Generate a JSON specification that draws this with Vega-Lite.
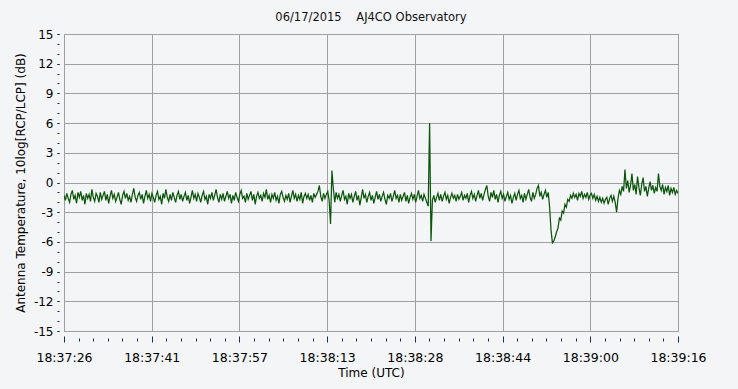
{
"$schema": "https://vega.github.io/schema/vega-lite/v6.json",
"width": 614, "height": 297,
"autosize": {"type": "none"},
"padding": {"left": 64, "top": 34, "right": 60, "bottom": 58},
"background": "#f4f5f7",
"config": {"view": {"stroke": "#a0a0a0", "strokeWidth": 1, "fill": "#f4f5f7"}, "font": "DejaVu Sans"},
"title": {"text": "06/17/2015\u00a0\u00a0\u00a0\u00a0AJ4CO Observatory", "fontSize": 11.5, "fontWeight": "normal", "font": "DejaVu Sans", "color": "#111111", "anchor": "middle", "offset": 5},
"data": {"values": [
{"t":0,"v":-1.3},{"t":0.25,"v":-1.8},{"t":0.5,"v":-1.1},{"t":0.75,"v":-1.6},
{"t":1,"v":-2.0},{"t":1.25,"v":-1.2},{"t":1.5,"v":-0.8},{"t":1.75,"v":-1.7},
{"t":2,"v":-1.3},{"t":2.25,"v":-2.1},{"t":2.5,"v":-1.0},{"t":2.75,"v":-1.5},
{"t":3,"v":-0.9},{"t":3.25,"v":-1.8},{"t":3.5,"v":-1.3},{"t":3.75,"v":-2.2},
{"t":4,"v":-1.1},{"t":4.25,"v":-1.6},{"t":4.5,"v":-1.2},{"t":4.75,"v":-1.9},
{"t":5,"v":-0.7},{"t":5.25,"v":-1.5},{"t":5.5,"v":-1.9},{"t":5.75,"v":-1.1},
{"t":6,"v":-1.4},{"t":6.25,"v":-2.0},{"t":6.5,"v":-1.0},{"t":6.75,"v":-1.7},
{"t":7,"v":-1.3},{"t":7.25,"v":-0.9},{"t":7.5,"v":-1.8},{"t":7.75,"v":-1.2},
{"t":8,"v":-2.1},{"t":8.25,"v":-1.4},{"t":8.5,"v":-0.8},{"t":8.75,"v":-1.6},
{"t":9,"v":-1.2},{"t":9.25,"v":-1.9},{"t":9.5,"v":-1.5},{"t":9.75,"v":-1.0},
{"t":10,"v":-1.7},{"t":10.25,"v":-2.2},{"t":10.5,"v":-1.3},{"t":10.75,"v":-0.9},
{"t":11,"v":-1.6},{"t":11.25,"v":-1.1},{"t":11.5,"v":-1.8},{"t":11.75,"v":-1.4},
{"t":12,"v":-2.0},{"t":12.25,"v":-1.2},{"t":12.5,"v":-0.6},{"t":12.75,"v":-1.5},
{"t":13,"v":-1.9},{"t":13.25,"v":-1.3},{"t":13.5,"v":-1.0},{"t":13.75,"v":-1.7},
{"t":14,"v":-1.2},{"t":14.25,"v":-2.1},{"t":14.5,"v":-1.4},{"t":14.75,"v":-0.8},
{"t":15,"v":-1.6},{"t":15.25,"v":-1.2},{"t":15.5,"v":-1.9},{"t":15.75,"v":-1.1},
{"t":16,"v":-1.5},{"t":16.25,"v":-2.0},{"t":16.5,"v":-1.3},{"t":16.75,"v":-0.9},
{"t":17,"v":-1.7},{"t":17.25,"v":-1.4},{"t":17.5,"v":-2.2},{"t":17.75,"v":-1.1},
{"t":18,"v":-1.6},{"t":18.25,"v":-0.7},{"t":18.5,"v":-1.5},{"t":18.75,"v":-1.9},
{"t":19,"v":-1.2},{"t":19.25,"v":-1.8},{"t":19.5,"v":-1.0},{"t":19.75,"v":-1.5},
{"t":20,"v":-2.0},{"t":20.25,"v":-1.3},{"t":20.5,"v":-0.9},{"t":20.75,"v":-1.7},
{"t":21,"v":-1.2},{"t":21.25,"v":-1.9},{"t":21.5,"v":-1.4},{"t":21.75,"v":-1.0},
{"t":22,"v":-1.8},{"t":22.25,"v":-1.3},{"t":22.5,"v":-2.1},{"t":22.75,"v":-1.5},
{"t":23,"v":-0.8},{"t":23.25,"v":-1.6},{"t":23.5,"v":-1.2},{"t":23.75,"v":-1.9},
{"t":24,"v":-1.1},{"t":24.25,"v":-1.5},{"t":24.5,"v":-2.0},{"t":24.75,"v":-1.3},
{"t":25,"v":-0.9},{"t":25.25,"v":-1.7},{"t":25.5,"v":-1.4},{"t":25.75,"v":-2.2},
{"t":26,"v":-1.2},{"t":26.25,"v":-1.6},{"t":26.5,"v":-1.0},{"t":26.75,"v":-1.8},
{"t":27,"v":-1.3},{"t":27.25,"v":-0.7},{"t":27.5,"v":-1.5},{"t":27.75,"v":-2.0},
{"t":28,"v":-1.2},{"t":28.25,"v":-1.7},{"t":28.5,"v":-1.1},{"t":28.75,"v":-1.9},
{"t":29,"v":-1.4},{"t":29.25,"v":-0.9},{"t":29.5,"v":-1.6},{"t":29.75,"v":-1.2},
{"t":30,"v":-2.1},{"t":30.25,"v":-1.3},{"t":30.5,"v":-1.8},{"t":30.75,"v":-1.0},
{"t":31,"v":-1.5},{"t":31.25,"v":-1.9},{"t":31.5,"v":-1.2},{"t":31.75,"v":-0.8},
{"t":32,"v":-1.6},{"t":32.25,"v":-1.4},{"t":32.5,"v":-2.0},{"t":32.75,"v":-1.1},
{"t":33,"v":-1.7},{"t":33.25,"v":-1.3},{"t":33.5,"v":-0.9},{"t":33.75,"v":-1.8},
{"t":34,"v":-1.2},{"t":34.25,"v":-2.2},{"t":34.5,"v":-1.4},{"t":34.75,"v":-1.0},
{"t":35,"v":-1.6},{"t":35.25,"v":-1.3},{"t":35.5,"v":-1.9},{"t":35.75,"v":-1.1},
{"t":36,"v":-1.5},{"t":36.25,"v":-0.7},{"t":36.5,"v":-1.7},{"t":36.75,"v":-1.3},
{"t":37,"v":-2.0},{"t":37.25,"v":-1.2},{"t":37.5,"v":-1.6},{"t":37.75,"v":-1.0},
{"t":38,"v":-1.8},{"t":38.25,"v":-1.4},{"t":38.5,"v":-2.1},{"t":38.75,"v":-1.2},
{"t":39,"v":-0.9},{"t":39.25,"v":-1.5},{"t":39.5,"v":-1.9},{"t":39.75,"v":-1.3},
{"t":40,"v":-1.7},{"t":40.25,"v":-1.1},{"t":40.5,"v":-2.0},{"t":40.75,"v":-1.4},
{"t":41,"v":-0.8},{"t":41.25,"v":-1.6},{"t":41.5,"v":-1.2},{"t":41.75,"v":-1.9},
{"t":42,"v":-1.3},{"t":42.25,"v":-1.7},{"t":42.5,"v":-1.0},{"t":42.75,"v":-2.1},
{"t":43,"v":-1.4},{"t":43.25,"v":-1.1},{"t":43.5,"v":-1.6},{"t":43.75,"v":-1.2},
{"t":44,"v":-1.8},{"t":44.25,"v":-1.3},{"t":44.5,"v":-2.0},{"t":44.75,"v":-1.1},
{"t":45,"v":-1.5},{"t":45.25,"v":-1.2},{"t":45.5,"v":-0.9},{"t":45.75,"v":-0.3},
{"t":46,"v":-1.4},{"t":46.25,"v":-1.9},{"t":46.5,"v":-1.1},{"t":46.75,"v":-1.6},
{"t":47,"v":-1.2},{"t":47.25,"v":-0.9},{"t":47.5,"v":-1.8},{"t":47.75,"v":-4.2},
{"t":48,"v":1.2},{"t":48.25,"v":-0.6},{"t":48.5,"v":-2.0},{"t":48.75,"v":-1.0},
{"t":49,"v":-1.6},{"t":49.25,"v":-1.2},{"t":49.5,"v":-1.9},{"t":49.75,"v":-1.3},
{"t":50,"v":-0.8},{"t":50.25,"v":-1.7},{"t":50.5,"v":-1.4},{"t":50.75,"v":-2.2},
{"t":51,"v":-1.1},{"t":51.25,"v":-1.6},{"t":51.5,"v":-1.2},{"t":51.75,"v":-2.0},
{"t":52,"v":-1.4},{"t":52.25,"v":-0.9},{"t":52.5,"v":-1.8},{"t":52.75,"v":-1.3},
{"t":53,"v":-2.3},{"t":53.25,"v":-1.5},{"t":53.5,"v":-0.7},{"t":53.75,"v":-1.6},
{"t":54,"v":-1.2},{"t":54.25,"v":-2.0},{"t":54.5,"v":-1.4},{"t":54.75,"v":-1.0},
{"t":55,"v":-1.8},{"t":55.25,"v":-1.3},{"t":55.5,"v":-2.1},{"t":55.75,"v":-1.5},
{"t":56,"v":-0.9},{"t":56.25,"v":-1.7},{"t":56.5,"v":-1.2},{"t":56.75,"v":-1.9},
{"t":57,"v":-1.4},{"t":57.25,"v":-1.0},{"t":57.5,"v":-1.7},{"t":57.75,"v":-2.2},
{"t":58,"v":-1.3},{"t":58.25,"v":-1.6},{"t":58.5,"v":-1.1},{"t":58.75,"v":-1.9},
{"t":59,"v":-1.4},{"t":59.25,"v":-0.8},{"t":59.5,"v":-1.6},{"t":59.75,"v":-1.3},
{"t":60,"v":-2.0},{"t":60.25,"v":-1.2},{"t":60.5,"v":-1.8},{"t":60.75,"v":-1.4},
{"t":61,"v":-1.0},{"t":61.25,"v":-1.9},{"t":61.5,"v":-1.3},{"t":61.75,"v":-2.1},
{"t":62,"v":-1.5},{"t":62.25,"v":-1.1},{"t":62.5,"v":-1.7},{"t":62.75,"v":-1.2},
{"t":63,"v":-2.0},{"t":63.25,"v":-1.4},{"t":63.5,"v":-0.8},{"t":63.75,"v":-1.6},
{"t":64,"v":-1.3},{"t":64.25,"v":-1.9},{"t":64.5,"v":-1.2},{"t":64.75,"v":-1.6},
{"t":65,"v":-2.0},{"t":65.25,"v":-2.4},{"t":65.5,"v":6.0},{"t":65.75,"v":-5.9},
{"t":66,"v":-1.8},{"t":66.25,"v":-1.3},{"t":66.5,"v":-2.0},{"t":66.75,"v":-1.5},
{"t":67,"v":-1.1},{"t":67.25,"v":-1.8},{"t":67.5,"v":-1.2},{"t":67.75,"v":-1.9},
{"t":68,"v":-1.4},{"t":68.25,"v":-1.0},{"t":68.5,"v":-1.7},{"t":68.75,"v":-1.3},
{"t":69,"v":-2.1},{"t":69.25,"v":-1.5},{"t":69.5,"v":-1.1},{"t":69.75,"v":-1.6},
{"t":70,"v":-1.3},{"t":70.25,"v":-1.9},{"t":70.5,"v":-1.2},{"t":70.75,"v":-1.7},
{"t":71,"v":-1.4},{"t":71.25,"v":-1.0},{"t":71.5,"v":-1.8},{"t":71.75,"v":-1.3},
{"t":72,"v":-1.6},{"t":72.25,"v":-1.1},{"t":72.5,"v":-2.0},{"t":72.75,"v":-1.3},
{"t":73,"v":-0.9},{"t":73.25,"v":-1.6},{"t":73.5,"v":-1.2},{"t":73.75,"v":-1.9},
{"t":74,"v":-1.3},{"t":74.25,"v":-0.8},{"t":74.5,"v":-1.6},{"t":74.75,"v":-1.1},
{"t":75,"v":-1.8},{"t":75.25,"v":-1.2},{"t":75.5,"v":-0.7},{"t":75.75,"v":-0.3},
{"t":76,"v":-1.4},{"t":76.25,"v":-1.9},{"t":76.5,"v":-1.0},{"t":76.75,"v":-1.5},
{"t":77,"v":-0.8},{"t":77.25,"v":-1.7},{"t":77.5,"v":-1.2},{"t":77.75,"v":-2.0},
{"t":78,"v":-1.3},{"t":78.25,"v":-0.9},{"t":78.5,"v":-1.6},{"t":78.75,"v":-1.2},
{"t":79,"v":-1.9},{"t":79.25,"v":-1.4},{"t":79.5,"v":-1.0},{"t":79.75,"v":-1.7},
{"t":80,"v":-1.3},{"t":80.25,"v":-2.1},{"t":80.5,"v":-1.5},{"t":80.75,"v":-1.1},
{"t":81,"v":-1.8},{"t":81.25,"v":-1.2},{"t":81.5,"v":-0.8},{"t":81.75,"v":-1.6},
{"t":82,"v":-1.3},{"t":82.25,"v":-2.0},{"t":82.5,"v":-1.1},{"t":82.75,"v":-1.7},
{"t":83,"v":-1.2},{"t":83.25,"v":-0.7},{"t":83.5,"v":-1.5},{"t":83.75,"v":-1.9},
{"t":84,"v":-1.0},{"t":84.25,"v":-1.6},{"t":84.5,"v":-1.2},{"t":84.75,"v":-0.6},
{"t":85,"v":-0.3},{"t":85.25,"v":-1.4},{"t":85.5,"v":-1.0},{"t":85.75,"v":-1.7},
{"t":86,"v":-1.2},{"t":86.25,"v":-0.8},{"t":86.5,"v":-1.5},{"t":86.75,"v":-1.0},
{"t":87,"v":-2.5},{"t":87.25,"v":-4.8},{"t":87.5,"v":-6.1},{"t":87.75,"v":-5.9},
{"t":88,"v":-5.5},{"t":88.25,"v":-5.0},{"t":88.5,"v":-4.6},{"t":88.75,"v":-3.6},
{"t":89,"v":-3.8},{"t":89.25,"v":-2.9},{"t":89.5,"v":-3.1},{"t":89.75,"v":-2.2},
{"t":90,"v":-2.5},{"t":90.25,"v":-1.7},{"t":90.5,"v":-1.9},{"t":90.75,"v":-1.3},
{"t":91,"v":-1.6},{"t":91.25,"v":-1.1},{"t":91.5,"v":-1.5},{"t":91.75,"v":-1.2},
{"t":92,"v":-1.8},{"t":92.25,"v":-1.1},{"t":92.5,"v":-1.4},{"t":92.75,"v":-0.9},
{"t":93,"v":-1.6},{"t":93.25,"v":-1.2},{"t":93.5,"v":-1.5},{"t":93.75,"v":-1.0},
{"t":94,"v":-1.7},{"t":94.25,"v":-1.3},{"t":94.5,"v":-1.1},{"t":94.75,"v":-1.6},
{"t":95,"v":-1.2},{"t":95.25,"v":-1.8},{"t":95.5,"v":-1.4},{"t":95.75,"v":-1.9},
{"t":96,"v":-1.5},{"t":96.25,"v":-2.0},{"t":96.5,"v":-1.6},{"t":96.75,"v":-2.1},
{"t":97,"v":-1.7},{"t":97.25,"v":-1.5},{"t":97.5,"v":-2.2},{"t":97.75,"v":-1.6},
{"t":98,"v":-1.3},{"t":98.25,"v":-1.9},{"t":98.5,"v":-1.4},{"t":98.75,"v":-2.0},
{"t":99,"v":-3.0},{"t":99.25,"v":-1.6},{"t":99.5,"v":-0.8},{"t":99.75,"v":-1.2},
{"t":100,"v":-0.4},{"t":100.25,"v":-0.9},{"t":100.5,"v":1.3},{"t":100.75,"v":-0.6},
{"t":101,"v":0.2},{"t":101.25,"v":-1.0},{"t":101.5,"v":-0.3},{"t":101.75,"v":0.9},
{"t":102,"v":-0.8},{"t":102.25,"v":-0.2},{"t":102.5,"v":-1.2},{"t":102.75,"v":0.6},
{"t":103,"v":-0.5},{"t":103.25,"v":-1.3},{"t":103.5,"v":-0.2},{"t":103.75,"v":0.5},
{"t":104,"v":-0.9},{"t":104.25,"v":-0.4},{"t":104.5,"v":-1.4},{"t":104.75,"v":-0.6},
{"t":105,"v":0.1},{"t":105.25,"v":-0.8},{"t":105.5,"v":-0.3},{"t":105.75,"v":-1.1},
{"t":106,"v":-0.5},{"t":106.25,"v":-0.9},{"t":106.5,"v":0.9},{"t":106.75,"v":-0.4},
{"t":107,"v":-0.8},{"t":107.25,"v":-0.2},{"t":107.5,"v":-1.2},{"t":107.75,"v":-0.5},
{"t":108,"v":-0.9},{"t":108.25,"v":-0.3},{"t":108.5,"v":-1.3},{"t":108.75,"v":-0.6},
{"t":109,"v":-1.0},{"t":109.25,"v":-0.5},{"t":109.5,"v":-1.2},{"t":109.75,"v":-0.8},
{"t":110,"v":-1.1}
]},
"layer": [
{
"mark": {"type": "line", "color": "#0b560b", "strokeWidth": 1.25, "clip": true},
"encoding": {
"x": {"field": "t", "type": "quantitative",
"scale": {"domain": [0, 110], "nice": false, "zero": false},
"axis": {"values": [0, 15.7142857, 31.4285714, 47.1428571, 62.8571429, 78.5714286, 94.2857143, 110],
"labelExpr": "utcFormat((datum.value + 67046) * 1000, '%H:%M:%S')",
"title": "Time (UTC)", "grid": true, "gridColor": "#a0a0a0", "gridOpacity": 1, "domain": false,
"offset": 5, "tickSize": 6, "tickColor": "#1c2c4c", "labelPadding": 9, "labelFontSize": 12.5,
"labelColor": "#000000", "labelFont": "DejaVu Sans", "titleFont": "DejaVu Sans", "titleFontSize": 12,
"titleFontWeight": "normal", "titleColor": "#000000", "titlePadding": 4, "labelFlush": false, "labelOverlap": false}},
"y": {"field": "v", "type": "quantitative",
"scale": {"domain": [-15, 15], "nice": false, "zero": false},
"axis": {"values": [-15, -12, -9, -6, -3, 0, 3, 6, 9, 12, 15],
"labelExpr": "datum.value < 0 ? '-' + abs(datum.value) : '' + datum.value",
"title": "Antenna Temperature, 10log[RCP/LCP] (dB)", "grid": true, "gridColor": "#a0a0a0", "gridOpacity": 1, "domain": false,
"offset": 5, "tickSize": 2, "tickColor": "#1c2c4c", "labelPadding": 4, "labelFontSize": 12,
"labelColor": "#000000", "labelFont": "DejaVu Sans", "titleFont": "DejaVu Sans", "titleFontSize": 12,
"titleFontWeight": "normal", "titleColor": "#000000", "titlePadding": 6, "labelFlush": false, "labelOverlap": false}}
}
},
{
"mark": {"type": "line", "opacity": 0},
"encoding": {
"x": {"field": "t", "type": "quantitative",
"axis": {"orient": "bottom", "values": [0, 2.6190476, 5.2380952, 7.8571429, 10.4761905, 13.0952381, 15.7142857, 18.3333333, 20.952381, 23.5714286, 26.1904762, 28.8095238, 31.4285714, 34.047619, 36.6666667, 39.2857143, 41.9047619, 44.5238095, 47.1428571, 49.7619048, 52.3809524, 55, 57.6190476, 60.2380952, 62.8571429, 65.4761905, 68.0952381, 70.7142857, 73.3333333, 75.952381, 78.5714286, 81.1904762, 83.8095238, 86.4285714, 89.047619, 91.6666667, 94.2857143, 96.9047619, 99.5238095, 102.1428571, 104.7619048, 107.3809524, 110],
"labels": false, "grid": false, "domain": false, "title": null, "offset": 7, "tickSize": 3, "tickColor": "#1c2c4c"}},
"y": {"field": "v", "type": "quantitative",
"axis": {"orient": "left", "values": [-15, -14, -13, -12, -11, -10, -9, -8, -7, -6, -5, -4, -3, -2, -1, 0, 1, 2, 3, 4, 5, 6, 7, 8, 9, 10, 11, 12, 13, 14, 15],
"labels": false, "grid": false, "domain": false, "title": null, "offset": 5, "tickSize": 2, "tickColor": "#1c2c4c"}}
}
}
],
"resolve": {"axis": {"x": "independent", "y": "independent"}}
}
